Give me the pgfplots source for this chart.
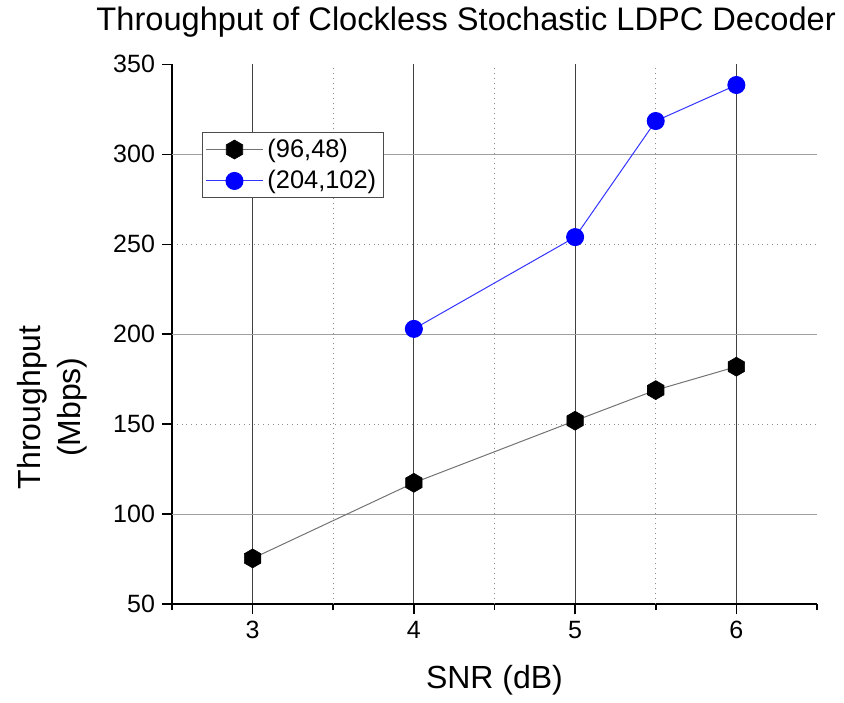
\documentclass[border=0pt]{standalone}
\usepackage{fontspec}
\setmainfont{Liberation Sans}
\usepackage{pgfplots}
\pgfplotsset{compat=1.18}
\pgfdeclareplotmark{hexagon}{%
  \pgfpathmoveto{\pgfpointpolar{90}{\pgfplotmarksize}}%
  \pgfpathlineto{\pgfpointpolar{150}{\pgfplotmarksize}}%
  \pgfpathlineto{\pgfpointpolar{210}{\pgfplotmarksize}}%
  \pgfpathlineto{\pgfpointpolar{270}{\pgfplotmarksize}}%
  \pgfpathlineto{\pgfpointpolar{330}{\pgfplotmarksize}}%
  \pgfpathlineto{\pgfpointpolar{30}{\pgfplotmarksize}}%
  \pgfpathclose
  \pgfusepathqfillstroke}
\definecolor{vgrid}{HTML}{404040}
\definecolor{hgrid}{HTML}{A0A0A0}
\definecolor{dgrid}{HTML}{8C8C8C}
\begin{document}
\begin{tikzpicture}
\begin{axis}[
  scale only axis,
  width=322.5pt, height=270pt,
  xmin=2.5, xmax=6.5, ymin=50, ymax=350,
  axis x line=bottom, axis y line=left,
  axis line style={-, line width=1pt, black},
  clip=false,
  tick align=outside,
  tick style={black, line width=0.8pt},
  /pgf/number format/assume math mode=true,
  ticklabel style={font=\fontsize{12.5}{14}\selectfont},
  xtick={3,4,5,6},
  major tick length=5pt,
  minor tick length=3pt,
  minor xtick={2.5,6.5},
  extra x ticks={3.5,4.5,5.5},
  extra x tick labels={},
  extra x tick style={major tick length=3pt, grid=major, major grid style={dotted, dgrid, line width=0.6pt}},
  xmajorgrids,
  major grid style={vgrid, line width=0.5pt},
  ytick={50,100,...,350},
  extra y ticks={100,200,300},
  extra y tick labels={},
  extra y tick style={major tick length=5pt, grid=major, major grid style={hgrid, line width=0.7pt}},
  minor ytick={150,250},
  yminorgrids,
  minor grid style={dotted, dgrid, line width=0.6pt},
  xlabel={SNR (dB)},
  ylabel={Throughput\\(Mbps)},
  label style={font=\fontsize{16}{20}\selectfont},
  xlabel style={at={(axis description cs:0.5,-0.141)}, anchor=center},
  ylabel style={at={(axis description cs:-0.186,0.365)}, anchor=center, align=center},
  every axis title shift=0pt,
  title={Throughput of Clockless Stochastic LDPC Decoder},
  title style={font=\fontsize{16.3}{19}\selectfont, at={(axis description cs:0.456,1.063)}, anchor=base, yshift=0pt},
  legend cell align=left,
  legend style={at={(axis description cs:0.0465,0.874)}, anchor=north west,
    draw=black!70, line width=0.5pt, font=\fontsize{12.7}{14.5}\selectfont,
    inner xsep=1.5pt, inner ysep=1pt, row sep=1pt},
  legend image code/.code={\draw[mark repeat=2,mark phase=2,#1] plot coordinates {(0pt,0pt)(14.25pt,0pt)(28.5pt,0pt)};},
]
\path (rel axis cs:-0.2667,-0.1815) rectangle (rel axis cs:1.0419,1.1148);
\addplot[black!55, line width=0.5pt, mark=hexagon, mark size=4.75pt, mark options={solid, fill=black, draw=black, line width=0.3pt}]
  coordinates {(3,75.5) (4,117.5) (5,152) (5.5,169) (6,182)};
\addlegendentry{(96,48)}
\addplot[blue!80, line width=0.5pt, mark=*, mark size=4.25pt, mark options={solid, fill=blue, draw=blue}]
  coordinates {(4,203) (5,254) (5.5,318.5) (6,338.5)};
\addlegendentry{(204,102)}
\end{axis}
\end{tikzpicture}
\end{document}
